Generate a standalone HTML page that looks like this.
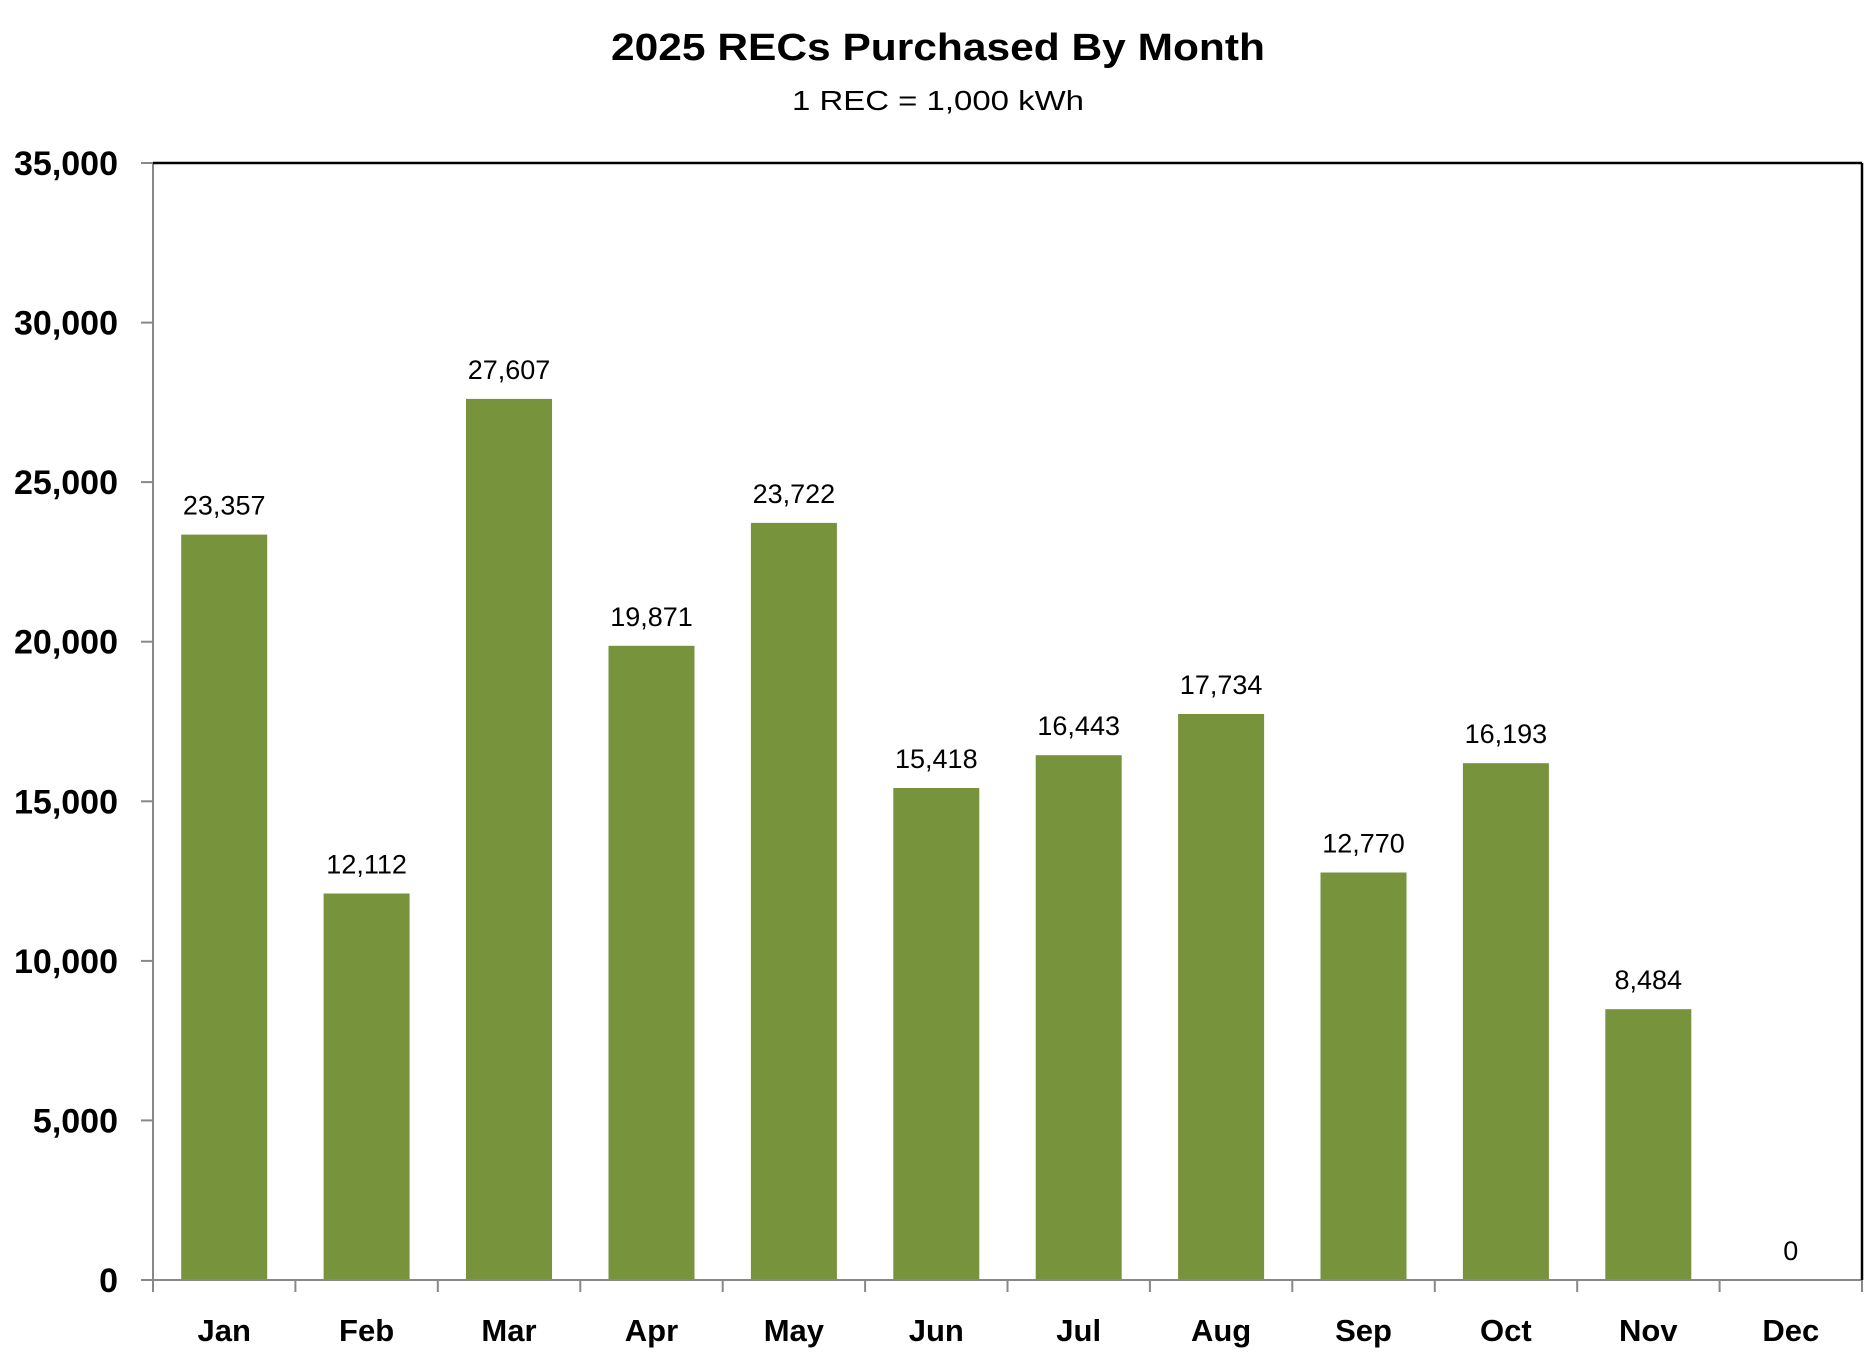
<!DOCTYPE html>
<html><head><meta charset="utf-8"><style>html,body{margin:0;padding:0;background:#fff}svg{display:block}</style></head>
<body>
<svg width="1870" height="1353" viewBox="0 0 1870 1353" xmlns="http://www.w3.org/2000/svg" font-family="'Liberation Sans', sans-serif">
<rect width="1870" height="1353" fill="#fff"/>
<text x="938" y="60" text-anchor="middle" font-size="38" font-weight="bold" textLength="654" lengthAdjust="spacingAndGlyphs">2025 RECs Purchased By Month</text>
<text x="938" y="110" text-anchor="middle" font-size="28" textLength="292" lengthAdjust="spacingAndGlyphs">1 REC = 1,000 kWh</text>
<g fill="#77933c">
<rect x="181.2" y="534.6" width="86" height="745.4"/>
<rect x="323.6" y="893.5" width="86" height="386.5"/>
<rect x="466.0" y="398.9" width="86" height="881.1"/>
<rect x="608.5" y="645.8" width="86" height="634.2"/>
<rect x="750.9" y="522.9" width="86" height="757.1"/>
<rect x="893.3" y="788.0" width="86" height="492.0"/>
<rect x="1035.7" y="755.2" width="86" height="524.8"/>
<rect x="1178.1" y="714.0" width="86" height="566.0"/>
<rect x="1320.5" y="872.5" width="86" height="407.5"/>
<rect x="1462.9" y="763.2" width="86" height="516.8"/>
<rect x="1605.3" y="1009.2" width="86" height="270.8"/>
</g>
<g font-size="27" text-anchor="middle">
<text x="224.2" y="514.6">23,357</text>
<text x="366.6" y="873.5">12,112</text>
<text x="509.0" y="378.9">27,607</text>
<text x="651.5" y="625.8">19,871</text>
<text x="793.9" y="502.9">23,722</text>
<text x="936.3" y="768.0">15,418</text>
<text x="1078.7" y="735.2">16,443</text>
<text x="1221.1" y="694.0">17,734</text>
<text x="1363.5" y="852.5">12,770</text>
<text x="1505.9" y="743.2">16,193</text>
<text x="1648.3" y="989.2">8,484</text>
<text x="1790.8" y="1260">0</text>
</g>
<g font-size="31" font-weight="bold" text-anchor="middle">
<text x="224.2" y="1341">Jan</text>
<text x="366.6" y="1341">Feb</text>
<text x="509.0" y="1341">Mar</text>
<text x="651.5" y="1341">Apr</text>
<text x="793.9" y="1341">May</text>
<text x="936.3" y="1341">Jun</text>
<text x="1078.7" y="1341">Jul</text>
<text x="1221.1" y="1341">Aug</text>
<text x="1363.5" y="1341">Sep</text>
<text x="1505.9" y="1341">Oct</text>
<text x="1648.3" y="1341">Nov</text>
<text x="1790.8" y="1341">Dec</text>
</g>
<g font-size="34" font-weight="bold" text-anchor="end">
<text x="118" y="1292">0</text>
<text x="118" y="1132.4">5,000</text>
<text x="118" y="972.9">10,000</text>
<text x="118" y="813.3">15,000</text>
<text x="118" y="653.7">20,000</text>
<text x="118" y="494.1">25,000</text>
<text x="118" y="334.6">30,000</text>
<text x="118" y="175">35,000</text>
</g>
<g stroke="#888" stroke-width="2">
<line x1="141" y1="1280" x2="153" y2="1280"/>
<line x1="141" y1="1120.4" x2="153" y2="1120.4"/>
<line x1="141" y1="960.9" x2="153" y2="960.9"/>
<line x1="141" y1="801.3" x2="153" y2="801.3"/>
<line x1="141" y1="641.7" x2="153" y2="641.7"/>
<line x1="141" y1="482.1" x2="153" y2="482.1"/>
<line x1="141" y1="322.6" x2="153" y2="322.6"/>
<line x1="141" y1="163" x2="153" y2="163"/>
<line x1="153" y1="163" x2="153" y2="1292"/>
<line x1="153" y1="1280" x2="1862" y2="1280"/>
<line x1="295.4" y1="1280" x2="295.4" y2="1292"/>
<line x1="437.8" y1="1280" x2="437.8" y2="1292"/>
<line x1="580.3" y1="1280" x2="580.3" y2="1292"/>
<line x1="722.7" y1="1280" x2="722.7" y2="1292"/>
<line x1="865.1" y1="1280" x2="865.1" y2="1292"/>
<line x1="1007.5" y1="1280" x2="1007.5" y2="1292"/>
<line x1="1149.9" y1="1280" x2="1149.9" y2="1292"/>
<line x1="1292.3" y1="1280" x2="1292.3" y2="1292"/>
<line x1="1434.8" y1="1280" x2="1434.8" y2="1292"/>
<line x1="1577.2" y1="1280" x2="1577.2" y2="1292"/>
<line x1="1719.6" y1="1280" x2="1719.6" y2="1292"/>
<line x1="1862" y1="1280" x2="1862" y2="1292"/>
</g>
<line x1="153" y1="163" x2="1862" y2="163" stroke="#000" stroke-width="2.5"/>
<line x1="1862" y1="163" x2="1862" y2="1280" stroke="#000" stroke-width="2.5"/>
</svg>
</body></html>
